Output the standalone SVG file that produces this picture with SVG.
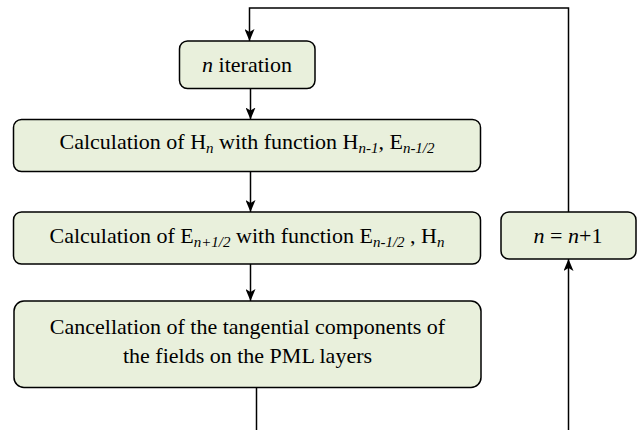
<svg xmlns="http://www.w3.org/2000/svg" width="641" height="430" viewBox="0 0 641 430">
<style>
.box{fill:#E9F0DC;stroke:#000;stroke-width:1.5}
text{font-family:'Times New Roman','Liberation Serif',serif;font-size:22px;fill:#000;text-anchor:middle}
.s{font-size:15px;font-style:italic}
.i{font-style:italic}
.c{fill:none;stroke:#000;stroke-width:1.5}
</style>
<defs>
<marker id="ah" viewBox="0 0 12 10" refX="12" refY="5" markerWidth="12" markerHeight="10" markerUnits="userSpaceOnUse" orient="auto">
<path d="M0,0 L12,5 L0,10 L3,5 z" fill="#000"/>
</marker>
</defs>
<g id="connectors">
<path class="c" d="M568.5,212 V8 H249.5 V41" marker-end="url(#ah)"/>
<path class="c" d="M250.5,88.5 V119.5" marker-end="url(#ah)"/>
<path class="c" d="M250.5,171.5 V212" marker-end="url(#ah)"/>
<path class="c" d="M250.5,264 V301" marker-end="url(#ah)"/>
<path class="c" d="M256.5,387.5 V430"/>
<path class="c" d="M568.5,430 V259" marker-end="url(#ah)"/>
</g>
<g id="n-iteration">
<rect class="box" x="179.5" y="41" width="135.5" height="47.5" rx="8"/>
<text x="247" y="72"><tspan class="i">n</tspan> iteration</text>
</g>
<g id="calc-h">
<rect class="box" x="13.5" y="119.5" width="467" height="52" rx="8"/>
<text x="247" y="149">Calculation of H<tspan class="s" dy="4">n</tspan><tspan dy="-4"> with function H</tspan><tspan class="s" dy="4">n-1</tspan><tspan dy="-4">, E</tspan><tspan class="s" dy="4">n-1/2</tspan></text>
</g>
<g id="calc-e">
<rect class="box" x="13.5" y="212" width="467" height="52" rx="8"/>
<text x="247" y="243">Calculation of E<tspan class="s" dy="4">n+1/2</tspan><tspan dy="-4"> with function E</tspan><tspan class="s" dy="4">n-1/2</tspan><tspan dy="-4"> , H</tspan><tspan class="s" dy="4">n</tspan></text>
</g>
<g id="cancellation">
<rect class="box" x="14" y="301" width="467" height="86.5" rx="10"/>
<text x="247.5" y="334">Cancellation of the tangential components of</text>
<text x="247.5" y="362.5">the fields on the PML layers</text>
</g>
<g id="n-increment">
<rect class="box" x="501" y="212" width="135" height="47" rx="8"/>
<text x="568" y="243"><tspan class="i">n</tspan> = <tspan class="i">n</tspan>+1</text>
</g>
</svg>
